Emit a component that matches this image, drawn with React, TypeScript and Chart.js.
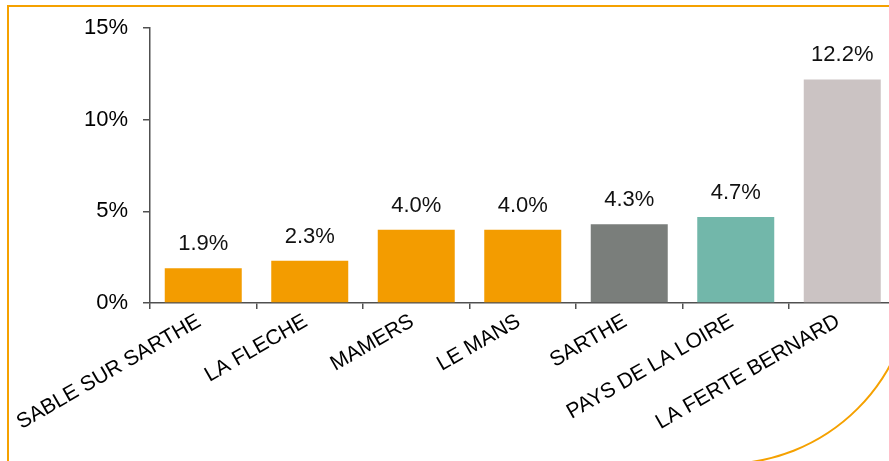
import React, { useEffect, useRef } from "react";
import { Chart, registerables } from "chart.js";

Chart.register(...registerables);

const categories = [
  "SABLE SUR SARTHE",
  "LA FLECHE",
  "MAMERS",
  "LE MANS",
  "SARTHE",
  "PAYS DE LA LOIRE",
  "LA FERTE BERNARD",
];
const values = [1.9, 2.3, 4.0, 4.0, 4.3, 4.7, 12.2];
const barColors = ["#F39C00", "#F39C00", "#F39C00", "#F39C00", "#7A7E7B", "#72B7AA", "#CBC3C3"];
const yTicks = [0, 5, 10, 15];

const FONT = "'Liberation Sans', Arial, sans-serif";
const ORANGE = "#F5A100";
const AXIS = "#505050";

const framePlugin = {
  id: "frame",
  beforeDraw(chart: any) {
    const ctx = chart.ctx;
    ctx.save();
    ctx.strokeStyle = ORANGE;
    ctx.lineWidth = 2;
    ctx.beginPath();
    ctx.moveTo(8, 480);
    ctx.lineTo(8, 6);
    ctx.lineTo(913, 6);
    ctx.lineTo(913, 275);
    ctx.arc(724, 275, 189, 0, Math.PI / 2);
    ctx.lineTo(8, 464);
    ctx.stroke();
    ctx.restore();
  },
};

const labelPlugin = {
  id: "barLabels",
  afterDatasetsDraw(chart: any) {
    const ctx = chart.ctx;
    const meta = chart.getDatasetMeta(0);
    ctx.save();
    ctx.fillStyle = "#111";
    ctx.font = `22px ${FONT}`;
    ctx.textAlign = "center";
    ctx.textBaseline = "alphabetic";
    meta.data.forEach((bar: any, i: number) => {
      ctx.fillText(values[i].toFixed(1) + "%", bar.x, bar.y - 18);
    });
    ctx.restore();
  },
};

export default function App() {
  const ref = useRef<HTMLCanvasElement>(null);
  useEffect(() => {
    if (!ref.current) return;
    const chart = new Chart(ref.current, {
      type: "bar",
      data: {
        labels: categories,
        datasets: [
          {
            data: values,
            backgroundColor: barColors,
            borderWidth: 0,
            barPercentage: 0.723,
            categoryPercentage: 1,
          },
        ],
      },
      options: {
        animation: false,
        responsive: false,
        maintainAspectRatio: false,
        layout: { padding: { top: 28, right: 24.5, left: 0, bottom: 0 } },
        plugins: { legend: { display: false }, tooltip: { enabled: false } },
        scales: {
          x: {
            grid: {
              display: true,
              drawOnChartArea: false,
              drawTicks: true,
              tickLength: 6,
              color: AXIS,
              lineWidth: 1.5,
              offset: true,
            },
            border: { color: AXIS, width: 1.5 },
            ticks: {
              autoSkip: false,
              maxRotation: 30,
              minRotation: 30,
              padding: 0,
              labelOffset: -4,
              color: "#000",
              font: { family: FONT, size: 21 },
            },
            afterFit: (s: any) => {
              s.height = 158;
            },
          },
          y: {
            min: 0,
            max: 15,
            afterBuildTicks: (s: any) => {
              s.ticks = yTicks.map((v) => ({ value: v }));
            },
            ticks: {
              padding: 15,
              color: "#000",
              font: { family: FONT, size: 22 },
              callback: (v: any) => v + "%",
            },
            grid: { drawOnChartArea: false, tickLength: 7, color: AXIS, lineWidth: 1.5 },
            border: { color: AXIS, width: 1.5 },
            afterFit: (s: any) => {
              s.width = 150;
            },
          },
        },
      },
      plugins: [framePlugin, labelPlugin],
    });
    return () => chart.destroy();
  }, []);
  return (
    <div style={{ position: "absolute", left: 0, top: 0, width: 889, height: 461, overflow: "hidden", background: "#fff" }}>
      <canvas ref={ref} width={920} height={461} style={{ display: "block" }} />
    </div>
  );
}
